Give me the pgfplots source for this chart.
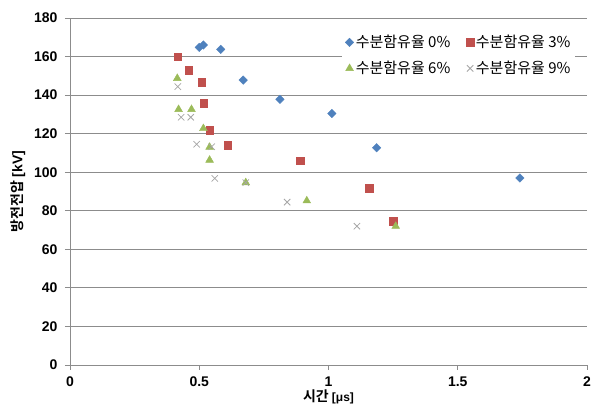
\documentclass[border=0pt]{standalone}
\usepackage{fontspec}
\setmainfont{Liberation Sans}
\newfontfamily\kr{Noto Sans CJK KR}[BoldFont={Noto Sans CJK KR Bold}]
\usepackage{pgfplots}
\pgfplotsset{compat=1.18}
\definecolor{sblue}{HTML}{4F81BD}
\definecolor{sred}{HTML}{C0504D}
\definecolor{sgreen}{HTML}{9BBB59}
\definecolor{sgrey}{HTML}{A6A6A6}
\definecolor{gridc}{HTML}{8C8C8C}
\begin{document}
\begin{tikzpicture}
\begin{axis}[
  name=main,
  scale only axis,
  width=517pt, height=347pt,
  xmin=0, xmax=2, ymin=0, ymax=180,
  xtick={0,0.5,1,1.5,2},
  xticklabels={0,0.5,1,1.5,2},
  ytick={0,20,...,180},
  axis x line*=bottom, axis y line*=left,
  axis line style={draw=gridc, line width=0.8pt},
  x axis line style={-}, y axis line style={-},
  ymajorgrids, grid style={draw=gridc, line width=0.8pt},
  tick align=outside, major tick length=5pt,
  tick style={draw=gridc, line width=0.8pt},
  /pgf/number format/assume math mode=true,
  tick label style={font=\fontsize{14}{16}\selectfont\bfseries},
  xticklabel style={yshift=-3pt},
  yticklabel style={xshift=-4pt},
  xlabel={\kr\bfseries 시간 {\rmfamily\fontsize{12}{14}\selectfont[μs]}},
  ylabel={\kr\bfseries 방전전압 {\rmfamily[kV]}},
  label style={font=\fontsize{14}{16}\selectfont},
  xlabel style={yshift=4pt},
  ylabel style={yshift=2pt},
  legend columns=2,
  legend style={at={(0.978,0.962)}, anchor=north east, draw=none, fill=white,
    font=\kr\fontsize{15}{17}\selectfont, row sep=8pt,
    /tikz/every even column/.append style={column sep=14pt}},
  legend cell align=left,
]
\addplot[only marks, mark=square*, mark size=3pt, mark options={draw=sblue, fill=sblue, rotate=45}]
 coordinates {(0.50,164.8)(0.516,166)(0.583,163.7)(0.67,147.8)(0.812,137.8)(1.013,130.5)(1.186,112.7)(1.74,97)};
\addlegendentry{수분함유율 0\%}
\addplot[only marks, mark=square*, mark size=3.8pt, mark options={draw=sred, fill=sred}]
 coordinates {(0.417,160)(0.459,153)(0.51,146.8)(0.517,135.7)(0.54,121.9)(0.61,114)(0.89,106)(1.157,91.8)(1.25,74.5)};
\addlegendentry{수분함유율 3\%}
\addplot[only marks, mark=triangle*, mark size=4.5pt, mark options={draw=sgreen, fill=sgreen}]
 coordinates {(0.415,148.7)(0.42,132.6)(0.47,132.6)(0.516,122.7)(0.54,113)(0.54,106.3)(0.68,94.6)(0.916,85.2)(1.26,72)};
\addlegendentry{수분함유율 6\%}
\addplot[only marks, mark=x, mark size=4.5pt, mark options={draw=sgrey, line width=0.8pt}]
 coordinates {(0.417,144.4)(0.43,128.5)(0.467,128.5)(0.49,114.5)(0.548,113.2)(0.56,96.8)(0.68,94.6)(0.84,84.5)(1.11,72)};
\addlegendentry{수분함유율 9\%}
\end{axis}
\pgfresetboundingbox
\path[use as bounding box] ([shift={(-70pt,-51pt)}]main.south west) rectangle ([shift={(4pt,18pt)}]main.north east);
\end{tikzpicture}
\end{document}
